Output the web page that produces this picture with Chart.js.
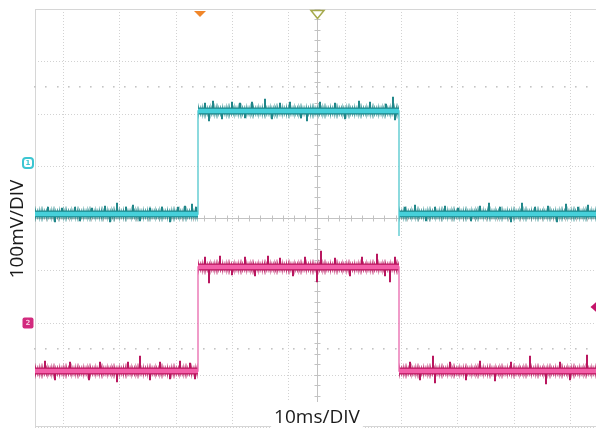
<!DOCTYPE html>
<html lang="en">
<head>
<meta charset="UTF-8">
<title>Scope capture - 100mV/DIV, 10ms/DIV</title>
<script src="https://cdn.jsdelivr.net/npm/chart.js@4.4.1/dist/chart.umd.min.js"></script>
<style>
  html, body { margin: 0; padding: 0; background: #fff; overflow: hidden; }
  .wrap { width: 603px; height: 430px; }
</style>
</head>
<body>
<div class="wrap"><canvas id="scope" width="603" height="430"></canvas></div>

<script>
// screen window: 10 div x 10 ms, 8 div x 100 mV
const timeRangeMs = [-50, 50];
const voltRangeMv = [-400, 400];
const minorStepMs = 2;
const minorStepMv = 20;
const dottedRowsMv = [250, -250];

// edges of the pulse (ms)
const riseMs = -21.0;
const fallMs = 14.6;

// [low, high] levels in mV
const ch1Levels = [7, 204];
const ch2Levels = [-292, -93];
const ch1FallUndershoot = -35;

// noise spikes: time (ms) and tip value (mV)
const ch1SpikeT = [-47.7, -46.4, -45.2, -42.9, -42.0, -39.8, -37.5, -36.7, -35.4, -33.8, -32.6, -31.3, -29.6, -27.5, -26.0, -24.6, -23.4, -22.1, -21.4,
  -19.8, -19.1, -18.4, -16.8, -15.0, -13.6, -12.7, -11.5, -9.1, -7.9, -6.5, -4.7, -2.8, -1.7, 0.6, 3.3, 5.1, 7.5, 9.5, 12.3, 13.6, 13.9,
  15.7, 17.5, 19.3, 20.9, 22.8, 25.1, 27.3, 29.0, 30.6, 32.6, 34.4, 36.5, 38.8, 41.1, 42.6, 44.2, 46.4, 48.2];
const ch1SpikeV = [21, -8, 19, 21, -6, 19, 23, -8, 29, 21, 25, -6, 19, 21, -8, 21, 23, 27, 21,
  220, 186, 224, 190, 222, 220, 192, 222, 228, 190, 220, 222, 192, 186, 222, 220, 190, 224, 222, 218, 232, 188,
  21, 25, -6, 21, 23, 19, -6, 23, 29, 21, -8, 29, 21, 23, -8, 27, 21, 25];

const ch2SpikeT = [-48.2, -46.4, -43.8, -40.4, -38.4, -35.4, -33.5, -31.3, -29.6, -27.8, -26.0, -24.2, -22.5, -21.6,
  -19.8, -19.1, -17.1, -15.0, -12.7, -10.9, -8.6, -6.5, -4.3, -2.0, 0.0, 0.8, 3.3, 5.9, 8.1, 10.7, 12.2, 13.0, 13.9,
  16.6, 18.4, 20.7, 20.9, 23.7, 26.4, 29.0, 31.7, 34.4, 37.9, 40.6, 43.2, 45.0, 48.0];
const ch2SpikeV = [-274, -310, -276, -310, -276, -314, -276, -264, -310, -276, -308, -274, -278, -308,
  -75, -125, -73, -109, -75, -111, -73, -77, -111, -75, -123, -63, -77, -111, -75, -69, -111, -123, -75,
  -276, -310, -264, -316, -276, -310, -274, -312, -276, -264, -318, -276, -310, -262];

// on-screen markers
const triggerPosMs = -20.8;
const ch1GroundMv = 105;
const ch2GroundMv = -200;
const triggerLevelMv = -170;

const ch1Color = { light: '#46d0da', dark: '#1d8588', edge: '#5ccbd0' };
const ch2Color = { light: '#f35fa8', dark: '#b8125c', edge: '#ea72b2' };

function edgePoints(levels, undershoot) {
  const [lo, hi] = levels;
  const pts = [
    { x: timeRangeMs[0], y: lo }, { x: riseMs, y: lo }, { x: riseMs, y: hi },
    { x: fallMs, y: hi }
  ];
  if (undershoot !== undefined) pts.push({ x: fallMs, y: undershoot });
  pts.push({ x: fallMs, y: lo }, { x: timeRangeMs[1], y: lo });
  return pts;
}

function levelPoints(levels) {
  const [lo, hi] = levels;
  return [
    { x: timeRangeMs[0], y: lo }, { x: riseMs, y: lo }, { x: riseMs, y: null },
    { x: riseMs, y: hi }, { x: fallMs, y: hi }, { x: fallMs, y: null },
    { x: fallMs, y: lo }, { x: timeRangeMs[1], y: lo }
  ];
}

function spikeBars(levels, times, tips) {
  return times.map((t, i) => {
    const base = (t > riseMs && t < fallMs) ? levels[1] : levels[0];
    return { x: t, y: [base, tips[i]] };
  });
}

function traceSets(levels, col, times, tips, undershoot) {
  return [
    { type: 'bar', data: spikeBars(levels, times, tips), backgroundColor: col.dark,
      barThickness: 1.3, grouped: false, order: 7 },
    { data: levelPoints(levels), borderColor: col.dark + '60', borderWidth: 15,
      borderDash: [1, 3, 1, 1, 2, 4], order: 6 },
    { data: levelPoints(levels), borderColor: col.dark + 'b0', borderWidth: 11,
      borderDash: [1, 1.2], order: 5 },
    { data: levelPoints(levels), borderColor: col.dark, borderWidth: 7, order: 4 },
    { data: edgePoints(levels, undershoot), borderColor: col.edge, borderWidth: 1.4, order: 3 },
    { data: levelPoints(levels), borderColor: col.light, borderWidth: 4.5, order: 2 }
  ];
}

function roundBox(ctx, cx, cy, s, r) {
  ctx.beginPath();
  ctx.roundRect(cx - s / 2, cy - s / 2, s, s, r);
}

const scopeDecor = {
  id: 'scopeDecor',
  beforeDatasetsDraw(chart) {
    const { ctx, chartArea: a, scales: { x, y } } = chart;
    ctx.save();
    ctx.strokeStyle = '#d6d6d6';
    ctx.lineWidth = 1;
    ctx.strokeRect(a.left + 0.5, a.top + 0.5, a.width - 1, a.height - 1);

    // dotted rows at +-2.5 div
    ctx.fillStyle = '#c4c4c4';
    dottedRowsMv.forEach(v => {
      const py = Math.round(y.getPixelForValue(v));
      for (let t = timeRangeMs[0]; t <= timeRangeMs[1]; t += minorStepMs) {
        ctx.fillRect(Math.round(x.getPixelForValue(t)) - 1, py - 1, 1.6, 1.6);
      }
    });

    // centre crosshair with minor ticks
    const cx = Math.round(x.getPixelForValue(0)) + 0.5;
    const cy = Math.round(y.getPixelForValue(0)) + 0.5;
    ctx.strokeStyle = '#c2c2c2';
    ctx.beginPath();
    ctx.moveTo(cx, a.top); ctx.lineTo(cx, a.bottom);
    ctx.moveTo(a.left, cy); ctx.lineTo(a.right, cy);
    for (let t = timeRangeMs[0]; t <= timeRangeMs[1]; t += minorStepMs) {
      const px = Math.round(x.getPixelForValue(t)) + 0.5;
      ctx.moveTo(px, cy - 3); ctx.lineTo(px, cy + 3);
    }
    for (let v = voltRangeMv[0]; v <= voltRangeMv[1]; v += minorStepMv) {
      const py = Math.round(y.getPixelForValue(v)) + 0.5;
      ctx.moveTo(cx - 3, py); ctx.lineTo(cx + 3, py);
    }
    ctx.stroke();
    ctx.restore();
  },
  afterDraw(chart) {
    const { ctx, chartArea: a, scales: { x, y } } = chart;
    ctx.save();

    // trigger position (orange) and screen centre (olive) at the top
    const tx = x.getPixelForValue(triggerPosMs);
    ctx.fillStyle = '#f0862a';
    ctx.beginPath();
    ctx.moveTo(tx - 6, a.top + 2); ctx.lineTo(tx + 6, a.top + 2); ctx.lineTo(tx, a.top + 8);
    ctx.closePath(); ctx.fill();

    const ox = x.getPixelForValue(0) + 0.5;
    ctx.fillStyle = '#fff';
    ctx.strokeStyle = '#a6aa4e';
    ctx.lineWidth = 1.5;
    ctx.beginPath();
    ctx.moveTo(ox - 6.5, a.top + 1.5); ctx.lineTo(ox + 6.5, a.top + 1.5); ctx.lineTo(ox, a.top + 9.5);
    ctx.closePath(); ctx.fill(); ctx.stroke();

    // channel ground markers on the left
    const mx = a.left - 7;
    ctx.font = 'bold 7px "DejaVu Sans"';
    ctx.textAlign = 'center';
    ctx.textBaseline = 'middle';
    const g1 = y.getPixelForValue(ch1GroundMv);
    roundBox(ctx, mx, g1, 10, 3);
    ctx.fillStyle = '#fff'; ctx.fill();
    ctx.strokeStyle = '#3cc6d2'; ctx.lineWidth = 2; ctx.stroke();
    ctx.fillStyle = '#3cc6d2'; ctx.fillText('1', mx, g1 + 0.5);

    const g2 = y.getPixelForValue(ch2GroundMv);
    roundBox(ctx, mx, g2, 11, 2);
    ctx.fillStyle = '#d22a7e'; ctx.fill();
    ctx.fillStyle = '#f7c6dd'; ctx.fillText('2', mx, g2 + 0.5);

    // trigger level diamond on the right
    const dx = a.right, dy = y.getPixelForValue(triggerLevelMv);
    ctx.fillStyle = '#c4146a';
    ctx.beginPath();
    ctx.moveTo(dx - 8, dy); ctx.lineTo(dx, dy - 7); ctx.lineTo(dx + 8, dy); ctx.lineTo(dx, dy + 7);
    ctx.closePath(); ctx.fill();

    // scale labels
    ctx.font = '19px "Open Sans"';
    ctx.fillStyle = '#1a1a1a';
    ctx.textBaseline = 'alphabetic';
    const hText = '10ms/DIV';
    const hx = x.getPixelForValue(0);
    const hw = ctx.measureText(hText).width;
    ctx.save();
    ctx.fillStyle = '#fff';
    ctx.fillRect(hx - hw / 2 - 3, a.bottom - 25, hw + 6, 30);
    ctx.restore();
    ctx.fillText(hText, hx, a.bottom - 4);

    ctx.translate(a.left - 12, y.getPixelForValue(-21));
    ctx.rotate(-Math.PI / 2);
    ctx.fillText('100mV/DIV', 0, 0);
    ctx.restore();
  }
};

new Chart(document.getElementById('scope'), {
  type: 'line',
  data: {
    datasets: [
      ...traceSets(ch1Levels, ch1Color, ch1SpikeT, ch1SpikeV, ch1FallUndershoot),
      ...traceSets(ch2Levels, ch2Color, ch2SpikeT, ch2SpikeV)
    ]
  },
  options: {
    responsive: false,
    animation: false,
    events: [],
    spanGaps: false,
    layout: { padding: { left: 35, top: 9, right: 4.5, bottom: 3 } },
    elements: {
      point: { radius: 0 },
      line: { tension: 0, borderCapStyle: 'butt', borderJoinStyle: 'miter' }
    },
    plugins: { legend: { display: false }, tooltip: { enabled: false } },
    scales: {
      x: {
        type: 'linear', min: timeRangeMs[0], max: timeRangeMs[1], offset: false,
        alignToPixels: true,
        ticks: { display: false, stepSize: 10 },
        grid: { color: '#d2d2d2', lineWidth: 1, drawTicks: false },
        border: { display: false, dash: [1, 2] }
      },
      y: {
        min: voltRangeMv[0], max: voltRangeMv[1],
        alignToPixels: true,
        ticks: { display: false, stepSize: 100 },
        grid: { color: '#d2d2d2', lineWidth: 1, drawTicks: false },
        border: { display: false, dash: [1, 2] }
      }
    }
  },
  plugins: [scopeDecor]
});
</script>
</body>
</html>
